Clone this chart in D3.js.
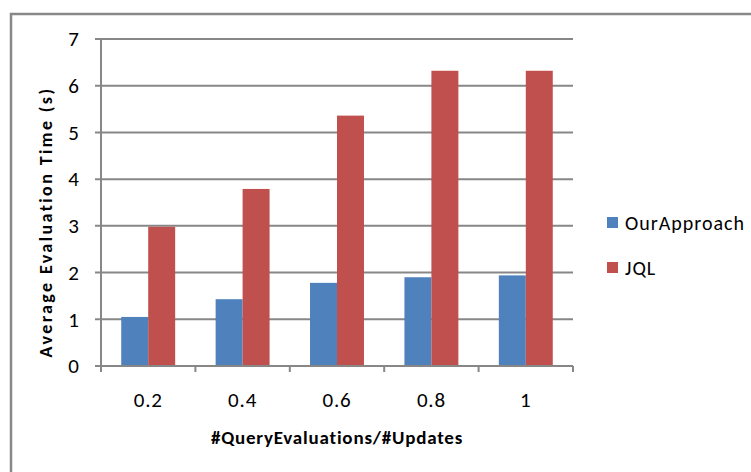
<!DOCTYPE html>
<html><head><meta charset="utf-8">
<script src="https://cdn.jsdelivr.net/npm/d3@7"></script>
<style>body{margin:0;background:#fff;} svg{display:block;} text{font-family:Carlito,Lato,"Open Sans",sans-serif;fill:#000;}</style>
</head><body>
<svg id="c" width="751" height="472"></svg>
<script>
const categories = ["0.2","0.4","0.6","0.8","1"];
const seriesNames = ["OurApproach","JQL"];
const ourApproach = [1.05,1.43,1.78,1.90,1.94];
const jql = [2.98,3.79,5.36,6.32,6.32];
const yTicks = [0,1,2,3,4,5,6,7];
const colors = ["#4F81BD","#C0504D"];

const svg = d3.select("#c");
svg.append("rect").attr("x",11).attr("y",14).attr("width",800).attr("height",500)
  .attr("fill","#fff").attr("stroke","#888").attr("stroke-width",2.5);

const x0 = 101, x1 = 573, yTop = 39, yBot = 366;
const x = d3.scaleBand().domain(categories).range([x0,x1]).paddingInner(0).paddingOuter(0);
const y = d3.scaleLinear().domain([0,7]).range([yBot,yTop]);
const inner = d3.scaleBand().domain(seriesNames).range([0,x.bandwidth()]).paddingInner(0).paddingOuter(0.75);

svg.append("g").selectAll("line").data(yTicks).join("line")
  .attr("x1",x0-6).attr("x2",x1).attr("y1",d=>y(d)).attr("y2",d=>y(d))
  .attr("stroke","#878787").attr("stroke-width",2);

const data = categories.map((c,i)=>({c, vals:[ourApproach[i], jql[i]]}));
const g = svg.append("g");
data.forEach(d=>{
  d.vals.forEach((v,j)=>{
    g.append("rect").attr("x",x(d.c)+inner(seriesNames[j])).attr("width",inner.bandwidth())
      .attr("y",y(v)).attr("height",yBot-y(v)).attr("fill",colors[j]);
  });
});

svg.append("line").attr("x1",x0).attr("x2",x0).attr("y1",yTop-1).attr("y2",yBot+6)
  .attr("stroke","#878787").attr("stroke-width",2);
svg.append("line").attr("x1",x0).attr("x2",x1).attr("y1",yBot).attr("y2",yBot)
  .attr("stroke","#878787").attr("stroke-width",2);
const bounds = categories.map(c=>x(c)).concat([x1]);
svg.append("g").selectAll("line").data(bounds).join("line")
  .attr("x1",d=>d).attr("x2",d=>d).attr("y1",yBot).attr("y2",yBot+6)
  .attr("stroke","#878787").attr("stroke-width",2);

svg.append("g").selectAll("text").data(yTicks).join("text")
  .attr("x",79).attr("y",d=>y(d)).attr("dy","0.35em").attr("text-anchor","end")
  .attr("font-size",21).text(d=>d);
svg.append("g").selectAll("text").data(categories).join("text")
  .attr("x",d=>x(d)+x.bandwidth()/2).attr("y",400).attr("dy","0.35em").attr("text-anchor","middle")
  .attr("font-size",21).attr("letter-spacing",0.8).text(d=>d);

svg.append("text").attr("x",337).attr("y",437).attr("dy","0.35em").attr("text-anchor","middle")
  .attr("font-size",19).attr("font-weight","bold").attr("letter-spacing",0.8).text("#QueryEvaluations/#Updates");
svg.append("text").attr("transform","translate(46,222) rotate(-90)").attr("dy","0.35em")
  .attr("text-anchor","middle").attr("font-size",18).attr("font-weight","bold")
  .attr("letter-spacing",2.4).text("Average Evaluation  Time (s)");

const leg = svg.append("g");
seriesNames.forEach((s,i)=>{
  const ly = 223 + i*45;
  leg.append("rect").attr("x",607).attr("y",ly-6).attr("width",11).attr("height",11).attr("fill",colors[i]);
  leg.append("text").attr("x",625).attr("y",ly).attr("dy","0.35em").attr("font-size",20)
    .attr("letter-spacing",1).text(s);
});
</script>
</body></html>
